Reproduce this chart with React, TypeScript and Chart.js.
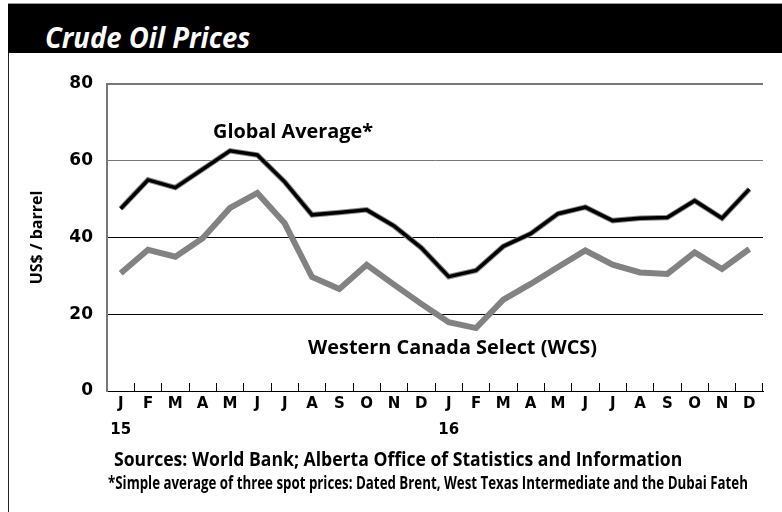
import React, { useEffect, useLayoutEffect, useRef, useState } from "react";
import { Chart, registerables } from "chart.js";

Chart.register(...registerables);

const monthLabels = ["J", "F", "M", "A", "M", "J", "J", "A", "S", "O", "N", "D"];
const yearLabels = ["15", "16"];
const globalAverage = [47.5, 55.0, 53.0, 57.8, 62.6, 61.5, 54.5, 45.9, 46.5, 47.2, 43.0, 37.3, 29.8, 31.4, 37.7, 41.0, 46.2, 47.9, 44.4, 45.0, 45.2, 49.6, 45.0, 52.6];
const wcsPrices = [30.7, 36.8, 35.0, 39.8, 47.7, 51.6, 43.7, 29.7, 26.6, 32.9, 27.7, 22.7, 17.9, 16.4, 23.8, 27.9, 32.3, 36.6, 32.9, 30.9, 30.5, 36.1, 31.8, 37.0];
const yMin = 0;
const yMax = 80;
const yStep = 20;

const categories: (string | string[])[] = [];
yearLabels.forEach((yr) => {
  monthLabels.forEach((m, i) => {
    categories.push(i === 0 ? [m, yr] : m);
  });
});

function FitText(props: { text: string; left: number; top: number; width: number; font: string; color?: string }) {
  const ref = useRef<HTMLSpanElement>(null);
  const [scale, setScale] = useState(1);
  useLayoutEffect(() => {
    if (ref.current) {
      const w = ref.current.offsetWidth;
      if (w) setScale(props.width / w);
    }
  }, [props.text, props.width, props.font]);
  return (
    <span
      ref={ref}
      style={{
        position: "absolute",
        left: props.left,
        top: props.top,
        whiteSpace: "nowrap",
        font: props.font,
        color: props.color || "#000",
        transform: `scaleX(${scale})`,
        transformOrigin: "0 0",
        display: "inline-block",
      }}
    >
      {props.text}
    </span>
  );
}

export default function App() {
  const canvasRef = useRef<HTMLCanvasElement>(null);

  useEffect(() => {
    const canvas = canvasRef.current;
    if (!canvas) return;
    const chart = new Chart(canvas, {
      type: "line",
      data: {
        labels: categories,
        datasets: [
          {
            label: "Global Average*",
            data: globalAverage,
            borderColor: "#000000",
            borderWidth: 3.5,
            pointRadius: 0,
            tension: 0,
            borderJoinStyle: "miter",
            order: 0,
          },
          {
            label: "Global Average outline",
            data: globalAverage,
            borderColor: "#8c8c8c",
            borderWidth: 5.5,
            pointRadius: 0,
            tension: 0,
            borderJoinStyle: "miter",
            order: 1,
          },
          {
            label: "Western Canada Select (WCS)",
            data: wcsPrices,
            borderColor: "#828282",
            borderWidth: 6,
            pointRadius: 0,
            tension: 0,
            borderJoinStyle: "miter",
            order: 2,
          },
        ],
      },
      options: {
        animation: false,
        responsive: false,
        events: [],
        layout: { padding: { left: 9, right: 19, top: 84, bottom: 71 } },
        plugins: { legend: { display: false }, tooltip: { enabled: false } },
        scales: {
          x: {
            offset: true,
            grid: {
              offset: true,
              drawOnChartArea: false,
              drawTicks: true,
              tickLength: -8,
              color: "#000",
              lineWidth: 1,
            },
            border: { display: true, color: "#000", width: 1 },
            ticks: {
              color: "#000",
              font: { family: "DejaVu Sans", weight: "bold", size: 15, lineHeight: "26px" },
              padding: 8,
              maxRotation: 0,
              autoSkip: false,
            },
            afterFit: (s: any) => {
              s.height = 50;
            },
          },
          y: {
            min: yMin,
            max: yMax,
            grid: {
              drawTicks: false,
              color: (c: any) => {
                const v = c.tick ? c.tick.value : 0;
                if (v === 0) return "rgba(0,0,0,0)";
                if (v >= 60) return "#777";
                return "#000";
              },
              lineWidth: (c: any) => (c.tick && c.tick.value === 80 ? 2 : 1),
            },
            border: { display: true, color: "#777", width: 2 },
            ticks: {
              stepSize: yStep,
              color: "#000",
              padding: 14,
              font: { family: "DejaVu Sans", weight: "bold", size: 17 },
            },
            title: {
              display: true,
              text: "US$ / barrel",
              color: "#000",
              font: { family: "Open Sans", weight: "bold", size: 16 },
              padding: { top: 18.4, bottom: 0 },
            },
            afterFit: (s: any) => {
              s.width = 98;
            },
          },
        },
      },
    });
    return () => chart.destroy();
  }, []);

  return (
    <div
      style={{
        position: "fixed",
        left: 0,
        top: 0,
        width: 782,
        height: 512,
        background: "#fff",
        overflow: "hidden",
      }}
    >
      <div style={{ position: "absolute", left: 8, top: 3, right: 0, height: 1, background: "#9a9a9a" }} />
      <div style={{ position: "absolute", left: 8, top: 4, right: 0, height: 49, background: "#000" }} />
      <div style={{ position: "absolute", left: 8, top: 53, width: 1, bottom: 0, background: "#222" }} />
      <FitText text="Crude Oil Prices" left={45} top={32.7 - 0.531 * 28} width={205} font="italic bold 28px 'Open Sans'" color="#fff" />
      <canvas ref={canvasRef} width={782} height={512} style={{ position: "absolute", left: 0, top: 0, width: 782, height: 512 }} />
      <FitText text="Global Average*" left={213} top={128 - 0.531 * 19} width={160} font="bold 19px 'Open Sans'" />
      <FitText text="Western Canada Select (WCS)" left={308} top={344 - 0.531 * 19} width={289} font="bold 19px 'Open Sans'" />
      <FitText text="Sources: World Bank; Alberta Office of Statistics and Information" left={114} top={456 - 0.531 * 19} width={568} font="bold 19px 'Open Sans'" />
      <FitText text="*Simple average of three spot prices: Dated Brent, West Texas Intermediate and the Dubai Fateh" left={108} top={480 - 0.531 * 17} width={640} font="bold 17px 'Open Sans'" />
    </div>
  );
}
